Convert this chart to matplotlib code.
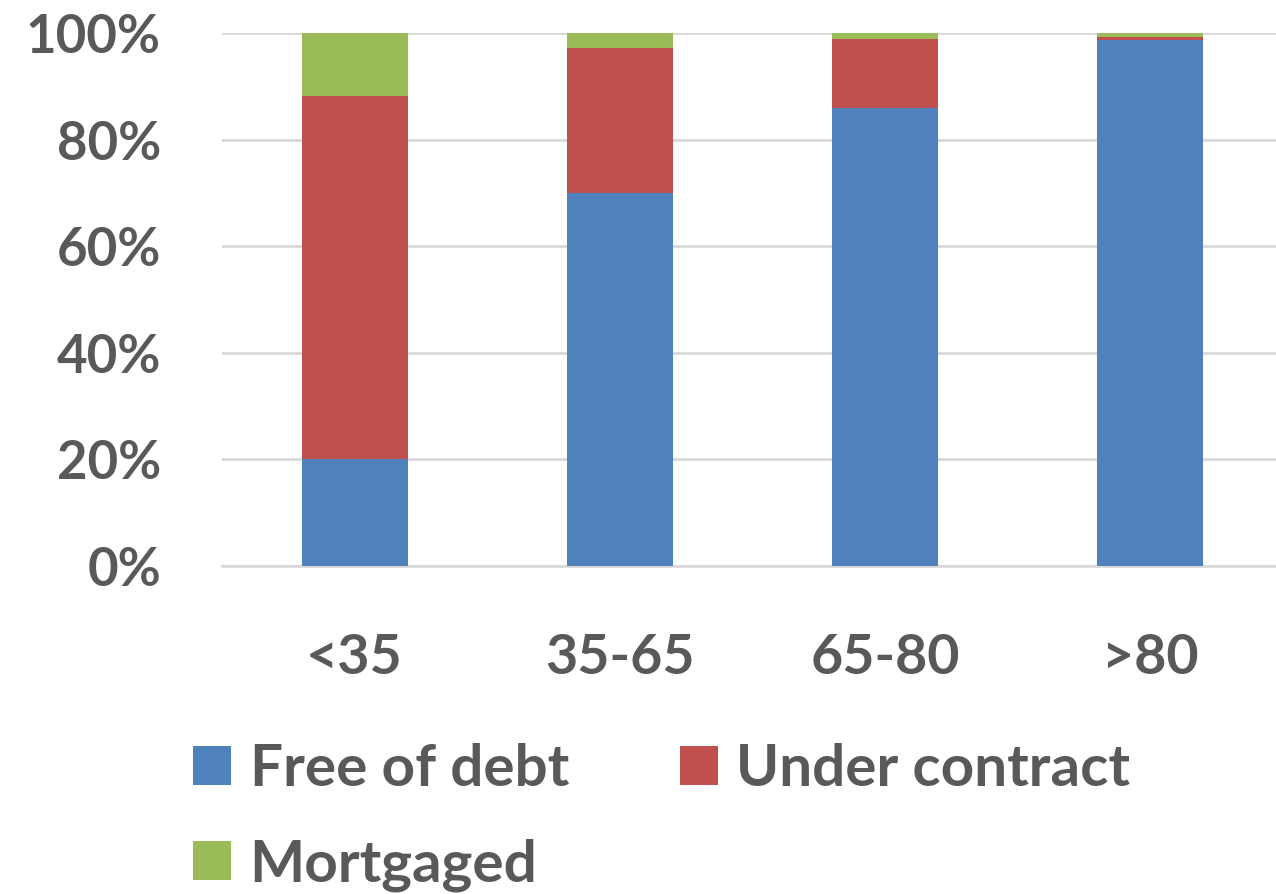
import matplotlib.pyplot as plt
import numpy as np

# Дані
categories = ["<35", "35-65", "65-80", ">80"]
free_of_debt = [20.0, 70.0, 86.0, 98.7]
under_contract = [68.2, 27.2, 12.8, 0.6]
mortgaged = [11.8, 2.8, 1.2, 0.7]
series_names = ["Free of debt", "Under contract", "Mortgaged"]
colors = ["#4F81BD", "#C0504D", "#9BBB59"]
yticks = [0, 20, 40, 60, 80, 100]

text_color = "#595959"
plt.rcParams["font.family"] = ["Lato", "DejaVu Sans"]
plt.rcParams["font.weight"] = "bold"

fig = plt.figure(figsize=(12.76, 8.94), dpi=100)
ax = fig.add_axes([222 / 1276, 1 - 566 / 894, 1 - 222 / 1276, (566 - 33) / 894])

x = np.arange(len(categories))
bottom = np.zeros(len(categories))
bars = []
for name, vals, c in zip(series_names, [free_of_debt, under_contract, mortgaged], colors):
    b = ax.bar(x, vals, width=0.4, bottom=bottom, color=c, label=name, zorder=3)
    bars.append(b)
    bottom += np.array(vals)

ax.set_xlim(-0.5, 3.475)
ax.set_ylim(0, 100)
ax.set_yticks(yticks)
ax.set_yticklabels([f"{t}%" for t in yticks])
ax.set_xticks(x)
ax.set_xticklabels(categories)
ax.tick_params(axis="y", length=0, pad=44, labelsize=38, labelcolor=text_color)
ax.tick_params(axis="x", length=0, pad=48, labelsize=40, labelcolor=text_color)
for lbl in ax.get_xticklabels() + ax.get_yticklabels():
    lbl.set_fontweight("bold")

ax.grid(axis="y", color="#D9D9D9", linewidth=2, zorder=0)
for s in ["top", "right", "left"]:
    ax.spines[s].set_visible(False)
ax.spines["bottom"].set_color("#D9D9D9")
ax.spines["bottom"].set_linewidth(2)

# порядок для заповнення по рядках
order = [0, 2, 1]
fig.legend([bars[i] for i in order], [series_names[i] for i in order],
           loc="upper left", bbox_to_anchor=(193 / 1276, 1 - 743 / 894), ncol=2,
           frameon=False, handlelength=0.65, handleheight=0.65,
           handletextpad=0.32, columnspacing=1.9, labelspacing=0.72,
           borderpad=0, borderaxespad=0,
           labelcolor=text_color, prop={"weight": "bold", "size": 42})

fig.savefig("out.png", dpi=100)
